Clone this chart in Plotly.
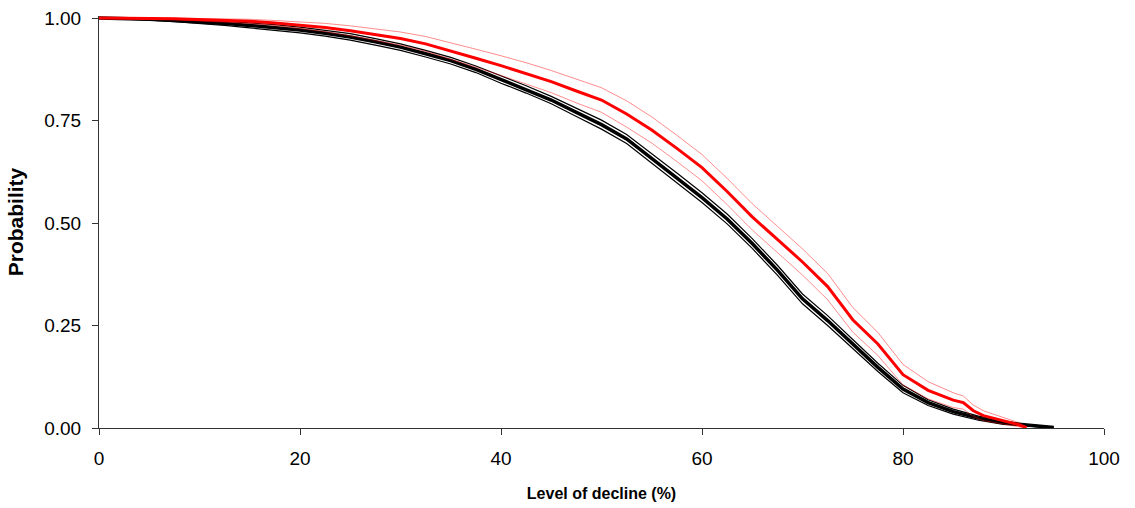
import plotly.graph_objects as go

# ---- data ----
black_x = [0, 2.5, 5, 7.5, 10, 12.5, 15, 17.5, 20, 22.5, 25, 27.5, 30, 32.5, 35, 37.5, 40,
           42.5, 45, 47.5, 50, 52.5, 55, 57.5, 60, 62.5, 65, 67.5, 70, 72.5, 75, 77.5, 80,
           82.5, 85, 87.5, 90, 92.5, 95]
black_mean = [1.000, 0.999, 0.997, 0.994, 0.991, 0.987, 0.982, 0.977, 0.971, 0.963, 0.954,
              0.942, 0.929, 0.913, 0.896, 0.875, 0.850, 0.826, 0.800, 0.770, 0.740, 0.705,
              0.658, 0.610, 0.562, 0.510, 0.450, 0.385, 0.315, 0.262, 0.205, 0.148, 0.095,
              0.062, 0.040, 0.024, 0.013, 0.006, 0.001]
black_upper = [1.000, 1.000, 0.999, 0.997, 0.995, 0.992, 0.988, 0.984, 0.978, 0.970, 0.962,
               0.950, 0.937, 0.921, 0.904, 0.883, 0.859, 0.835, 0.809, 0.780, 0.751, 0.716,
               0.670, 0.622, 0.574, 0.522, 0.462, 0.397, 0.327, 0.274, 0.216, 0.158, 0.104,
               0.069, 0.046, 0.029, 0.017, 0.008, 0.002]
black_lower = [1.000, 0.998, 0.995, 0.991, 0.987, 0.982, 0.976, 0.970, 0.964, 0.956, 0.946,
               0.934, 0.921, 0.905, 0.888, 0.867, 0.841, 0.817, 0.791, 0.760, 0.729, 0.694,
               0.646, 0.598, 0.550, 0.498, 0.438, 0.373, 0.303, 0.250, 0.194, 0.138, 0.086,
               0.055, 0.034, 0.019, 0.009, 0.004, 0.000]

red_x = [0, 2.5, 5, 7.5, 10, 12.5, 15, 17.5, 20, 22.5, 25, 27.5, 30, 32.5, 35, 37.5, 40,
         42.5, 45, 47.5, 50, 52.5, 55, 57.5, 60, 62.5, 65, 67.5, 70, 72.5, 75, 77.5, 80,
         82.5, 85, 86, 87, 88, 90, 91.5, 92.3]
red_mean = [1.000, 1.000, 0.999, 0.998, 0.996, 0.994, 0.992, 0.988, 0.983, 0.977, 0.969,
            0.960, 0.950, 0.937, 0.920, 0.902, 0.884, 0.865, 0.845, 0.822, 0.800, 0.766,
            0.727, 0.682, 0.635, 0.577, 0.515, 0.460, 0.405, 0.345, 0.264, 0.205, 0.130,
            0.092, 0.068, 0.062, 0.042, 0.030, 0.018, 0.008, 0.001]
red_upper = [1.000, 1.000, 1.000, 1.000, 0.999, 0.998, 0.997, 0.994, 0.991, 0.987, 0.981,
             0.974, 0.966, 0.955, 0.940, 0.924, 0.908, 0.891, 0.872, 0.851, 0.830, 0.798,
             0.759, 0.714, 0.667, 0.609, 0.547, 0.492, 0.437, 0.377, 0.294, 0.233, 0.155,
             0.113, 0.086, 0.078, 0.056, 0.042, 0.026, 0.013, 0.002]
red_lower = [1.000, 0.999, 0.998, 0.996, 0.993, 0.990, 0.987, 0.982, 0.975, 0.967, 0.957,
             0.946, 0.934, 0.919, 0.900, 0.880, 0.860, 0.839, 0.818, 0.793, 0.770, 0.734,
             0.695, 0.650, 0.603, 0.545, 0.483, 0.428, 0.373, 0.313, 0.234, 0.177, 0.105,
             0.071, 0.050, 0.046, 0.028, 0.018, 0.010, 0.003, 0.000]

x_ticks = [0, 20, 40, 60, 80, 100]
y_ticks = [0.00, 0.25, 0.50, 0.75, 1.00]

fig = go.Figure()

thin_black = dict(color="black", width=1.2)
thin_red = dict(color="rgba(255,0,0,0.45)", width=1)

fig.add_trace(go.Scatter(x=black_x, y=black_upper, mode="lines", line=thin_black))
fig.add_trace(go.Scatter(x=black_x, y=black_lower, mode="lines", line=thin_black))
fig.add_trace(go.Scatter(x=black_x, y=black_mean, mode="lines", line=dict(color="black", width=3.5)))
fig.add_trace(go.Scatter(x=red_x, y=red_upper, mode="lines", line=thin_red))
fig.add_trace(go.Scatter(x=red_x, y=red_lower, mode="lines", line=thin_red))
fig.add_trace(go.Scatter(x=red_x, y=red_mean, mode="lines", line=dict(color="#ff0000", width=3)))

tick_font = dict(family="Liberation Sans, Arial, sans-serif", size=19, color="black")
xtitle_font = dict(family="Liberation Sans, Arial, sans-serif", size=16, color="black")
ytitle_font = dict(family="Liberation Sans, Arial, sans-serif", size=21, color="black")

fig.update_layout(
    width=1135, height=508,
    margin=dict(l=99, r=31, t=16, b=80),
    paper_bgcolor="white", plot_bgcolor="white",
    showlegend=False,
    xaxis=dict(
        range=[0, 100], tickvals=x_ticks, ticktext=[str(v) for v in x_ticks],
        automargin=False,
        showgrid=False, zeroline=False, showline=True, linecolor="#333333", linewidth=1,
        ticks="outside", ticklen=6, tickcolor="#333333", tickfont=tick_font,
        ticklabelstandoff=7,
        title=dict(text="<b>Level of decline (%)</b>", font=xtitle_font, standoff=20),
    ),
    yaxis=dict(
        range=[0, 1.005], tickvals=y_ticks, ticktext=[f"{v:.2f}" for v in y_ticks],
        automargin=False,
        showgrid=False, zeroline=False, showline=True, linecolor="#333333", linewidth=1,
        ticks="outside", ticklen=6, tickcolor="#333333", tickfont=tick_font,
        ticklabelstandoff=7,
        title=dict(text="<b>Probability</b>", font=ytitle_font, standoff=14),
    ),
)

fig.write_html("out.html", config={"displayModeBar": False},
               post_script="document.body.style.margin='0';")
